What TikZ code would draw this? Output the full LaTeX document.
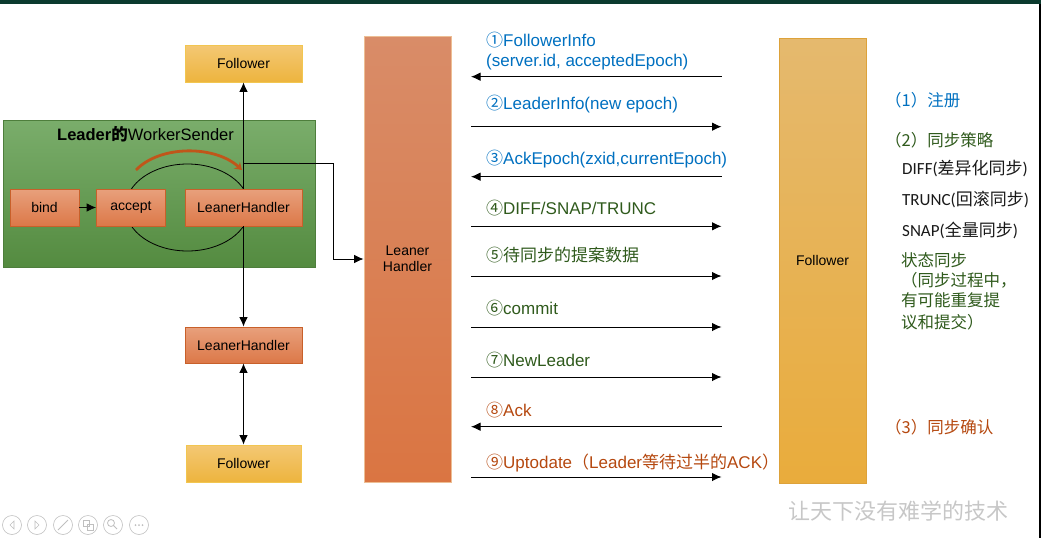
\documentclass[tikz,border=0pt]{standalone}
\usepackage{fontspec}
\setmainfont{Liberation Sans}
\newfontfamily\cjk{Noto Sans CJK SC}
\newfontfamily\calib{Carlito}
\usepackage{tikz}
\usetikzlibrary{arrows, arrows.meta, positioning, shapes.geometric}

\definecolor{topbar}{HTML}{0B3A2E}
\definecolor{wstop}{HTML}{7AAD6B}
\definecolor{wsbot}{HTML}{548B40}
\definecolor{wsedge}{HTML}{4E7E3C}
\definecolor{lhtop}{HTML}{E8A07C}
\definecolor{lhbot}{HTML}{DC7848}
\definecolor{lhedge}{HTML}{C8602A}
\definecolor{coltop}{HTML}{D98C68}
\definecolor{colbot}{HTML}{DA7542}
\definecolor{coledge}{HTML}{EDBE94}
\definecolor{ftop}{HTML}{F4C874}
\definecolor{fbot}{HTML}{EDB43E}
\definecolor{fedge}{HTML}{F2C650}
\definecolor{fctop}{HTML}{E5B96E}
\definecolor{fcbot}{HTML}{E9AC3C}
\definecolor{fcedge}{HTML}{DDA23A}
\definecolor{msgblue}{HTML}{0070C0}
\definecolor{msggreen}{HTML}{2F5A1C}
\definecolor{msgbrown}{HTML}{B5480F}
\definecolor{arcorange}{HTML}{C0561A}

\begin{document}
\begin{tikzpicture}[x=1pt, y=-1pt, >={Latex[length=9.5pt,width=8.5pt]},
    font=\fontsize{14}{16}\selectfont]
  \tikzstyle{box}=[rectangle, inner sep=0pt, text=black, align=center, line width=0.8pt]
  \tikzstyle{orange box}=[box, draw=lhedge, top color=lhtop, bottom color=lhbot, minimum height=37pt]
  \tikzstyle{yellow box}=[box, draw=fedge, top color=ftop, bottom color=fbot, minimum height=37pt]
  \tikzstyle{msg}=[anchor=base west, inner sep=0pt, font=\fontsize{17}{20}\selectfont]
  \tikzstyle{note}=[anchor=base west, inner sep=0pt, font=\cjk\fontsize{16.5}{20}\selectfont]

  \useasboundingbox (0,0) rectangle (1041,538);
  \fill[topbar] (0,0) rectangle (1041,3.5);
  \fill[black] (1038.5,3.5) rectangle (1041,538);

  % left side
  \node[box, draw=wsedge, top color=wstop, bottom color=wsbot,
        minimum width=312pt, minimum height=147pt] (ws) at (159,193.5) {};
  \node[anchor=base west, inner sep=0pt, font=\fontsize{16.5}{20}\selectfont] (ws_t) at (57,140)
        {\textbf{Leader{\cjk 的}}WorkerSender};
  \node[draw, ellipse, line width=0.8pt, inner sep=0pt,
        minimum width=124pt, minimum height=87pt] (loop) at (187.5,207.5) {};

  \node[yellow box, minimum width=117pt] (f_1) at (243.5,63.5) {Follower};
  \node[orange box, minimum width=69pt] (bind) at (44.5,207.5) {bind};
  \node[orange box, minimum width=69pt] (accept) at (131,207.5) {accept};
  \node[orange box, minimum width=117pt] (lh_1) at (243.5,207.5) {LeanerHandler};
  \node[orange box, minimum width=117pt, minimum height=36pt] (lh_2) at (243.5,345) {LeanerHandler};
  \node[yellow box, minimum width=115pt] (f_2) at (243.5,463.5) {Follower};

  \coordinate (arc_s) at (136,170);
  \coordinate (arc_e) at (242,170);
  \draw[arcorange, line width=2.8pt, -{Stealth[length=7pt,width=9pt]}]
    (arc_s) .. controls (160,145) and (215,145) .. (arc_e);

  \path[->, line width=0.8pt]
    (bind) edge (accept)
    (lh_1) edge (f_1)
    (lh_1) edge (lh_2);
  \path[<->, line width=0.8pt] (lh_2) edge (f_2);

  % the two columns
  \node[box, draw=coledge, top color=coltop, bottom color=colbot,
        minimum width=87pt, minimum height=446pt] (lh) at (407.5,259) {Leaner\\Handler};
  \node[box, draw=fcedge, top color=fctop, bottom color=fcbot,
        minimum width=87pt, minimum height=445pt] (f) at (822.5,260.5) {Follower};

  \coordinate (tap) at (243.5,163);
  \coordinate (bend) at (333,163);
  \draw[->, line width=0.8pt] (tap) -- (bend) |- (lh.west);

  % messages
  \foreach \i/\y in {1/76.7, 2/126.7, 3/176.7, 4/226.3, 5/276, 6/327, 7/377, 8/426.7, 9/477} {
    \coordinate (m_\i l) at (471,\y);
    \coordinate (m_\i r) at (721.5,\y);
  }
  \path[->, line width=0.9pt]
    (m_1r) edge (m_1l)
    (m_2l) edge (m_2r)
    (m_3r) edge (m_3l)
    (m_4l) edge (m_4r)
    (m_5l) edge (m_5r)
    (m_6l) edge (m_6r)
    (m_7l) edge (m_7r)
    (m_8r) edge (m_8l)
    (m_9l) edge (m_9r);

  \node[msg, text=msgblue] (t_1) at (486,46.5) {{\cjk ①}FollowerInfo};
  \node[msg, text=msgblue] (t_1b) at (486,66) {(server.id, acceptedEpoch)};
  \node[msg, text=msgblue] (t_2) at (486,109.5) {{\cjk ②}LeaderInfo(new epoch)};
  \node[msg, text=msgblue] (t_3) at (486,164) {{\cjk ③}AckEpoch(zxid,currentEpoch)};
  \node[msg, text=msggreen] (t_4) at (486,214.3) {{\cjk ④}DIFF/SNAP/TRUNC};
  \node[msg, text=msggreen] (t_5) at (486,261) {\cjk ⑤待同步的提案数据};
  \node[msg, text=msggreen] (t_6) at (486,314.3) {{\cjk ⑥}commit};
  \node[msg, text=msggreen] (t_7) at (486,366.7) {{\cjk ⑦}NewLeader};
  \node[msg, text=msgbrown] (t_8) at (486,416.7) {{\cjk ⑧}Ack};
  \node[msg, text=msgbrown] (t_9) at (486,468.3)
        {{\cjk ⑨}Uptodate{\cjk （}Leader{\cjk 等待过半的}ACK{\cjk ）}};

  % right side notes
  \node[note, text=msgblue] (n_1) at (885,106) {（1）注册};
  \node[note, text=msggreen] (n_2) at (885,146) {（2）同步策略};
  \node[note, text=black!90, font=\calib\fontsize{17}{20}\selectfont] (n_2a) at (902,174) {DIFF({\cjk 差异化同步})};
  \node[note, text=black!90, font=\calib\fontsize{17}{20}\selectfont] (n_2b) at (902,205) {TRUNC({\cjk 回滚同步})};
  \node[note, text=black!90, font=\calib\fontsize{17}{20}\selectfont] (n_2c) at (902,236) {SNAP({\cjk 全量同步})};
  \node[note, text=msggreen] (n_2d) at (901,266) {状态同步};
  \node[note, text=msggreen] (n_2e) at (901,286) {（同步过程中，};
  \node[note, text=msggreen] (n_2f) at (901,306) {有可能重复提};
  \node[note, text=msggreen] (n_2g) at (901,328) {议和提交）};
  \node[note, text=msgbrown] (n_3) at (885,433) {（3）同步确认};

  % watermark and toolbar
  \node[text=black!22, font=\cjk\fontsize{22}{24}\selectfont] (wm) at (898,511) {让天下没有难学的技术};
  \foreach \x in {12,37,63,88,113,139}
    \draw[black!25, line width=0.6pt] (\x,525) circle (9.5);
  \draw[black!25, line width=0.6pt] (14,521) -- (10,525) -- (14,529) -- cycle;
  \draw[black!25, line width=0.6pt] (35,521) -- (39,525) -- (35,529) -- cycle;
  \draw[black!25, line width=0.9pt] (58,530) -- (68,520);
  \draw[black!25, line width=0.6pt] (83,520) rectangle (89,526) (87,524) rectangle (93,530);
  \draw[black!25, line width=0.8pt] (111,523) circle (3.5) (113.5,525.5) -- (117,529);
  \foreach \x in {135.5,139,142.5}
    \fill[black!25] (\x,525) circle (1);
\end{tikzpicture}
\end{document}
